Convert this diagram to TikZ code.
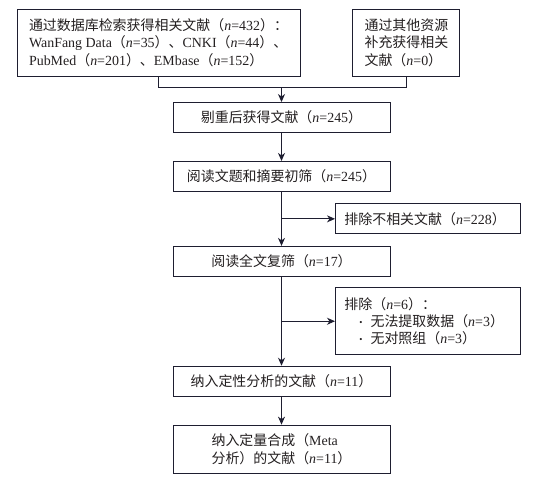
\documentclass[tikz,border=0pt]{standalone}
\usepackage{fontspec}
\setmainfont{Liberation Serif}
\newfontfamily\cjk{Noto Sans CJK SC}
\usetikzlibrary{arrows.meta, positioning, calc}
\definecolor{linecolor}{RGB}{30, 30, 48}
\definecolor{textcolor}{RGB}{35, 31, 32}
\newcommand{\lat}[1]{{\rmfamily #1}}
\newcommand{\nval}[1]{{\rmfamily\textit{n}=#1}}
\newcommand{\bul}{\hspace*{15bp}\raisebox{1.5bp}{\rmfamily\small\textbullet}\hspace{8bp}}
\tikzset{
  basebox/.style={
    rectangle, draw=linecolor, line width=0.9bp, text=textcolor,
    font=\cjk\fontsize{14}{17.5}\selectfont, inner sep=0pt
  },
  srcbox/.style={basebox, minimum height=67bp, align=left},
  mainbox/.style={basebox, minimum width=217bp, minimum height=30bp, align=center},
  sidebox/.style={basebox, minimum width=185bp, text width=167bp, align=left},
  arr/.style={-{Stealth[length=8bp, width=7bp, inset=2.5bp]}, line width=0.9bp, draw=linecolor},
  link/.style={line width=0.9bp, draw=linecolor}
}

\begin{document}
\begin{tikzpicture}[x=1bp, y=1bp]
  \useasboundingbox (0,0) rectangle (552,-479);

  % ── Sources ────────────────────────────────────────────────────
  \node[srcbox, minimum width=283bp] (db) at (158.5,-42.5)
    {通过数据库检索获得相关文献（\nval{432}）：\\
     \lat{WanFang Data}（\nval{35}）、\lat{CNKI}（\nval{44}）、\\
     \lat{PubMed}（\nval{201}）、\lat{EMbase}（\nval{152}）};
  \node[srcbox, minimum width=107bp, right=52bp of db] (other)
    {通过其他资源\\补充获得相关\\文献（\nval{0}）};

  % ── Main screening column ──────────────────────────────────────
  \node[mainbox] (dedup) at (281.5,-117.5) {剔重后获得文献（\nval{245}）};
  \node[mainbox, below=28bp of dedup] (title) {阅读文题和摘要初筛（\nval{245}）};
  \node[mainbox, below=54bp of title] (full) {阅读全文复筛（\nval{17}）};
  \node[mainbox, below=89bp of full] (qual) {纳入定性分析的文献（\nval{11}）};
  \node[mainbox, minimum height=48bp, align=left, below=28bp of qual] (quant)
    {纳入定量合成（\lat{Meta}\\分析）的文献（\nval{11}）};

  % ── Exclusions ─────────────────────────────────────────────────
  \coordinate (cut1) at ($(title.south)!0.5!(full.north)$);
  \coordinate (cut2) at ($(full.south)!0.5!(qual.north)$);
  \node[sidebox, minimum height=30bp, right=53.5bp of cut1] (excl1)
    {排除不相关文献（\nval{228}）};
  \node[sidebox, minimum height=67bp, right=53.5bp of cut2] (excl2)
    {排除（\nval{6}）：\\
     \bul 无法提取数据（\nval{3}）\\
     \bul 无对照组（\nval{3}）};

  % ── Flow arrows ────────────────────────────────────────────────
  \coordinate (join) at ($(dedup.north)+(0,15)$);
  \draw[link] (db.south) |- (join) -| (other.south);
  \draw[arr] (join)        -- (dedup.north);
  \draw[arr] (dedup.south) -- (title.north);
  \draw[arr] (title.south) -- (full.north);
  \draw[arr] (full.south)  -- (qual.north);
  \draw[arr] (qual.south)  -- (quant.north);
  \draw[arr] (cut1) -- (excl1.west);
  \draw[arr] (cut2) -- (excl2.west);

\end{tikzpicture}
\end{document}
